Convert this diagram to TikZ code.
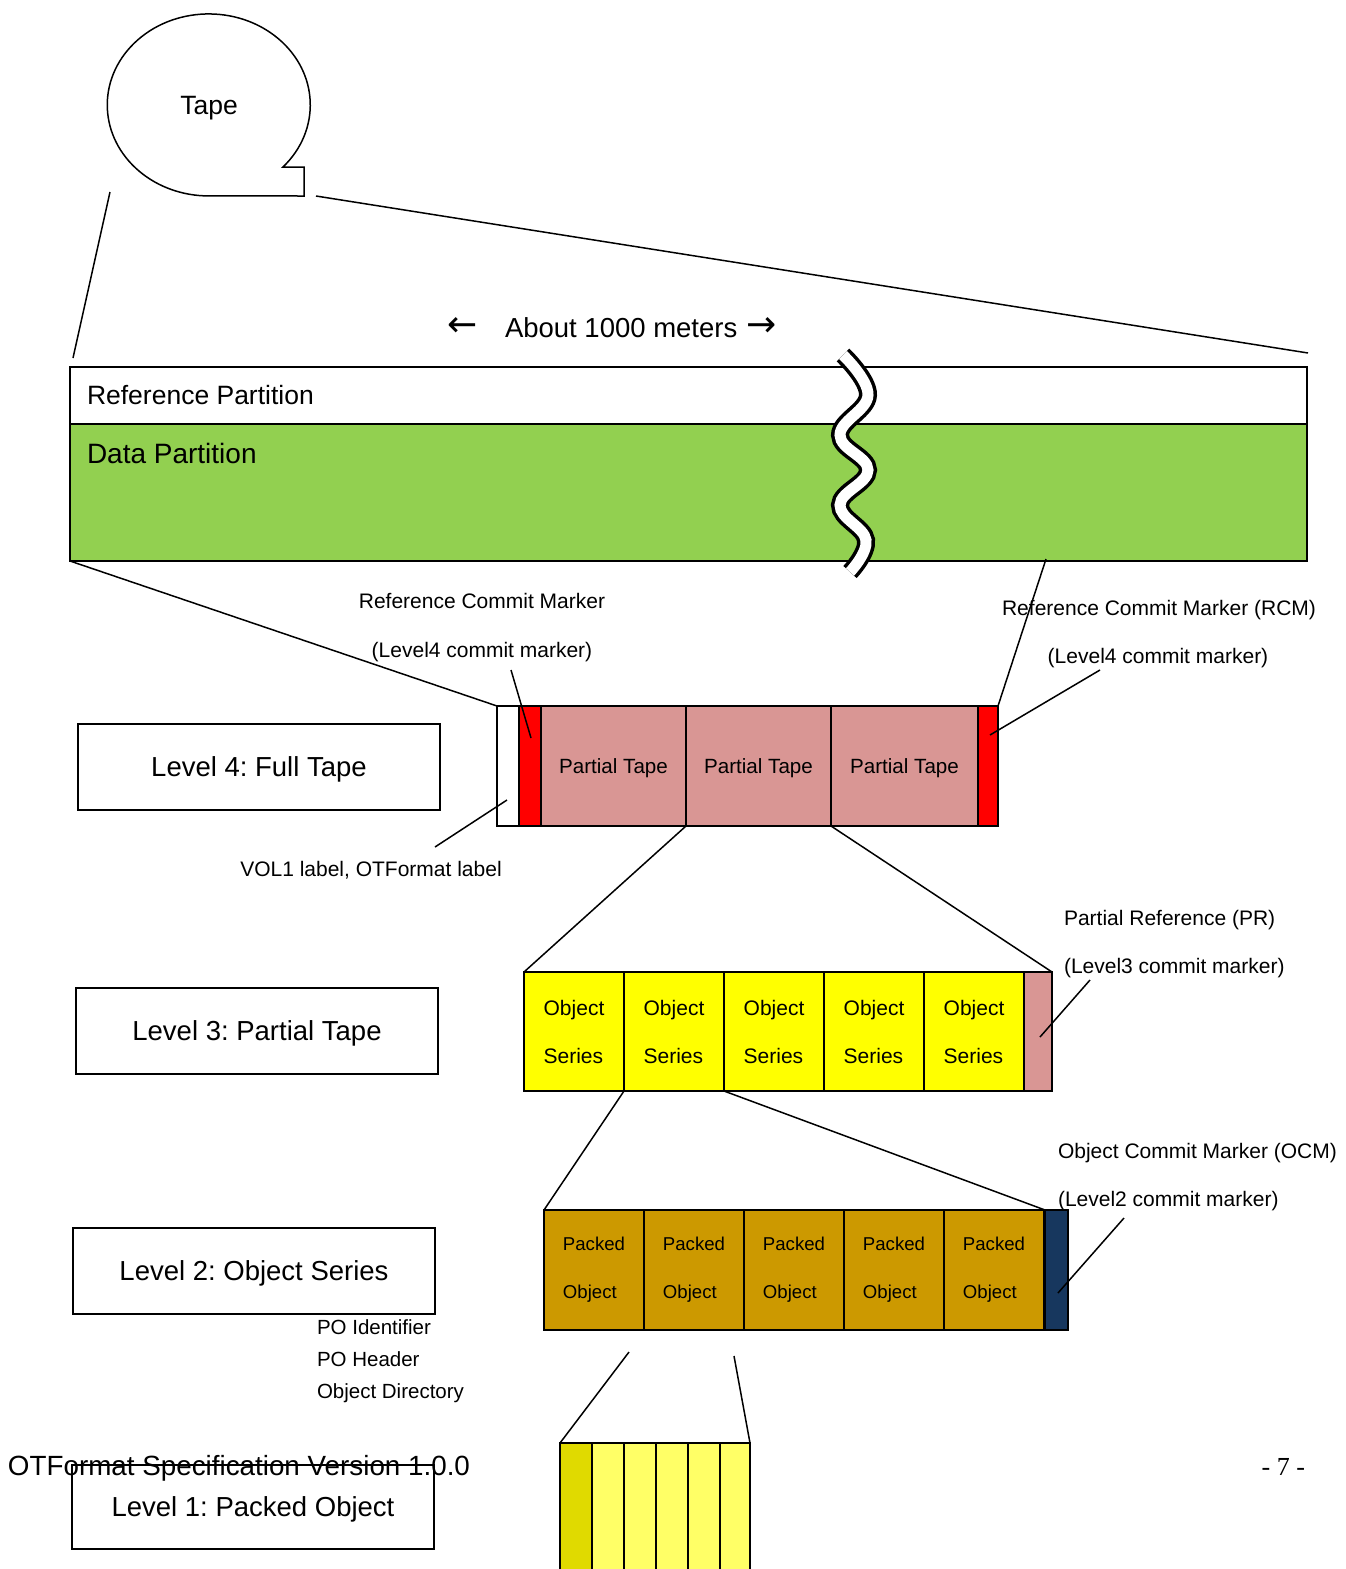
\documentclass[tikz,border=0pt]{standalone}
\usepackage{fontspec}
\setmainfont{Liberation Sans}
\newfontfamily\arrowfont{DejaVu Sans}
\newfontfamily\serifft{Liberation Serif}
\definecolor{dpgreen}{RGB}{146,208,80}
\definecolor{ptpink}{RGB}{217,150,148}
\definecolor{osyellow}{RGB}{255,255,0}
\definecolor{pogold}{RGB}{204,153,0}
\definecolor{ocmnavy}{RGB}{23,55,94}
\definecolor{stripdark}{RGB}{224,218,0}
\definecolor{striplight}{RGB}{255,255,102}
\newcommand\myfs[2]{\fontsize{#1}{#2}\selectfont}
\frenchspacing
\begin{document}
\begin{tikzpicture}[x=1pt,y=1pt,
  every node/.style={inner sep=0pt,outer sep=0pt},
  cell/.style={draw,line width=1.5pt,minimum height=120},
  lvl/.style={draw,line width=1.8pt,minimum width=362,minimum height=86,text depth=0pt,font=\myfs{27.5}{30}},
  lab/.style={text depth=0pt,font=\myfs{21}{24}},
  conn/.style={line width=1.5pt}]
\useasboundingbox (0,0) rectangle (1346,-1569);

% Tape callout
\draw[line width=1.5pt] (283,-167) arc[start angle=-43,end angle=270,x radius=101.5,y radius=91]
  -- (304,-196) -- (304,-167) -- cycle;
\node[font=\myfs{26.5}{30},text depth=0pt] (tape) at (209,-105) {Tape};
\coordinate (tl1) at (110,-192);
\coordinate (tl2) at (73,-358);
\coordinate (tr1) at (316,-196);
\coordinate (tr2) at (1308,-353);
\draw[conn] (tl1) -- (tl2);
\draw[conn] (tr1) -- (tr2);

% About 1000 meters
\node[font=\arrowfont\myfs{36}{40}] (arl) at (463,-327) {←};
\node[font=\myfs{27.5}{30},text depth=0pt,anchor=west] (about) at (505,-328) {About 1000 meters};
\node[font=\arrowfont\myfs{36}{40}] (arr) at (762,-327) {→};

% Partitions
\node[draw,line width=1.5pt,fill=white,minimum width=1237,minimum height=57,anchor=north west] (rp) at (70,-367) {};
\node[draw,line width=1.5pt,fill=dpgreen,minimum width=1237,minimum height=137,anchor=north west] (dp) at (70,-424) {};
\node[font=\myfs{26.5}{30},text depth=0pt,anchor=west] (rptext) at (87,-395) {Reference Partition};
\node[font=\myfs{28}{30},text depth=0pt,anchor=west] (dptext) at (87,-453) {Data Partition};

% wave break
\draw[line width=3.5pt,double=white,double distance=11pt] plot[smooth,tension=0.7] coordinates
  {(843,-355) (868,-395) (840,-435) (868,-470) (840,-505) (866,-540) (850,-572)};

% Level 4
\node[lvl] (l4) at (259,-767) {Level 4: Full Tape};
\node[cell,fill=white,minimum width=22] (vol) at (508,-766) {};
\node[cell,fill=red,minimum width=22] (rcma) at (530,-766) {};
\node[cell,fill=ptpink,minimum width=145,text depth=0pt,font=\myfs{20.6}{24}] (pt1) at (613.5,-766) {Partial Tape};
\node[cell,fill=ptpink,minimum width=145,text depth=0pt,font=\myfs{20.6}{24}] (pt2) at (758.5,-766) {Partial Tape};
\node[cell,fill=ptpink,minimum width=147,text depth=0pt,font=\myfs{20.6}{24}] (pt3) at (904.5,-766) {Partial Tape};
\node[cell,fill=red,minimum width=20] (rcmb) at (988,-766) {};

\coordinate (dpr) at (1046,-559);
\draw[conn] (dp.south west) -- (vol.north west);
\draw[conn] (dpr) -- (rcmb.north east);

\node[lab] (rcmlab1) at (482,-601) {Reference Commit Marker};
\node[lab] (rcmlab2) at (482,-650) {(Level4 commit marker)};
\coordinate (rcmp1) at (511,-670);
\coordinate (rcmp2) at (531,-738);
\draw[conn] (rcmp1) -- (rcmp2);

\node[lab] (rcmrlab1) at (1159,-608) {Reference Commit Marker (RCM)};
\node[lab] (rcmrlab2) at (1158,-656) {(Level4 commit marker)};
\coordinate (rcmq1) at (1100,-670);
\coordinate (rcmq2) at (990,-735);
\draw[conn] (rcmq1) -- (rcmq2);

\node[lab] (vollab) at (371,-869) {VOL1 label, OTFormat label};
\coordinate (volp1) at (435,-847);
\coordinate (volp2) at (507,-800);
\draw[conn] (volp1) -- (volp2);

% Level 3
\node[lvl] (l3) at (257,-1031) {Level 3: Partial Tape};
\foreach \i/\cx in {1/574,2/674,3/774,4/874,5/974}{
  \node[cell,fill=osyellow,minimum width=100,minimum height=119,align=left,font=\myfs{21}{48}] (os\i) at (\cx,-1031.5) {Object\\Series};
}
\node[cell,fill=ptpink,minimum width=28,minimum height=119] (pr) at (1038,-1031.5) {};
\draw[conn] (pt1.south east) -- (os1.north west);
\draw[conn] (pt2.south east) -- (pr.north east);

\node[lab,anchor=west] (prlab1) at (1064,-918) {Partial Reference (PR)};
\node[lab,anchor=west] (prlab2) at (1064,-966) {(Level3 commit marker)};
\coordinate (prp1) at (1090,-980);
\coordinate (prp2) at (1040,-1037);
\draw[conn] (prp1) -- (prp2);

% Level 2
\node[lvl] (l2) at (254,-1271) {Level 2: Object Series};
\foreach \i/\cx in {1/594,2/694,3/794,4/894,5/994}{
  \node[cell,fill=pogold,minimum width=100,align=left,font=\myfs{18.6}{48}] (po\i) at (\cx,-1270) {Packed\\Object};
}
\node[cell,fill=ocmnavy,minimum width=23] (ocm) at (1056.5,-1270) {};
\draw[conn] (os1.south east) -- (po1.north west);
\draw[conn] (os2.south east) -- (ocm.north west);

\node[lab,anchor=west] (ocmlab1) at (1058,-1151) {Object Commit Marker (OCM)};
\node[lab,anchor=west] (ocmlab2) at (1058,-1199) {(Level2 commit marker)};
\coordinate (ocmp1) at (1124,-1218);
\coordinate (ocmp2) at (1058,-1293);
\draw[conn] (ocmp1) -- (ocmp2);

\node[lab,anchor=west,font=\myfs{20.5}{24}] (poid) at (317,-1327) {PO Identifier};
\node[lab,anchor=west,font=\myfs{20.5}{24}] (pohd) at (317,-1359) {PO Header};
\node[lab,anchor=west,font=\myfs{20.5}{24}] (podir) at (317,-1391) {Object Directory};

% Level 1
\node[lvl,minimum height=84] (l1) at (253,-1507) {Level 1: Packed Object};
\node[cell,fill=stripdark,minimum width=32,minimum height=140,anchor=north west] (s1) at (560,-1443) {};
\node[cell,fill=striplight,minimum width=32,minimum height=140,anchor=north west] (s2) at (592,-1443) {};
\node[cell,fill=striplight,minimum width=32,minimum height=140,anchor=north west] (s3) at (624,-1443) {};
\node[cell,fill=striplight,minimum width=32,minimum height=140,anchor=north west] (s4) at (656,-1443) {};
\node[cell,fill=striplight,minimum width=32,minimum height=140,anchor=north west] (s5) at (688,-1443) {};
\node[cell,fill=striplight,minimum width=30,minimum height=140,anchor=north west] (s6) at (720,-1443) {};
\coordinate (pk1) at (629,-1352);
\coordinate (pk2) at (734,-1356);
\draw[conn] (pk1) -- (s1.north west);
\draw[conn] (pk2) -- (s6.north east);

% footer
\node[anchor=base west,font=\myfs{27.8}{30}] (foot) at (8,-1475) {OTFormat Specification Version 1.0.0};
\node[anchor=base east,font=\serifft\myfs{26}{30}] (page) at (1305,-1475) {- 7 -};
\end{tikzpicture}
\end{document}
